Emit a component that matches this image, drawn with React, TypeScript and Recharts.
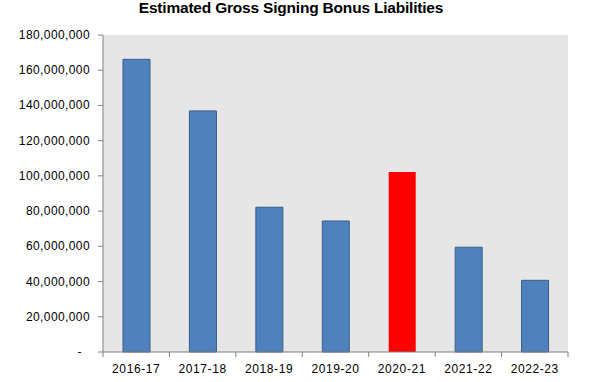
import { BarChart, Bar, XAxis, YAxis, CartesianGrid, Cell } from 'recharts';

const seasons = ['2016-17', '2017-18', '2018-19', '2019-20', '2020-21', '2021-22', '2022-23'];
const liabilities = [166200000, 136900000, 82200000, 74400000, 102200000, 59500000, 40700000];
const highlighted = '2020-21';
const yTicks = [0, 20000000, 40000000, 60000000, 80000000, 100000000, 120000000, 140000000, 160000000, 180000000];

const data = seasons.map((season, i) => ({ season, value: liabilities[i] }));

const AXIS = '#808080';
const FONT = 'Arial, "Liberation Sans", sans-serif';

const YTick = ({ x, y, payload }: any) => {
  const label = payload.value === 0 ? '-' : payload.value.toLocaleString('en-US');
  return (
    <text
      x={payload.value === 0 ? x - 14 : x - 6}
      y={y}
      dy={4}
      textAnchor="end"
      fontSize={12}
      letterSpacing={0.4}
      fontFamily={FONT}
      fill="#000"
    >
      {label}
    </text>
  );
};

const XTick = ({ x, y, index, visibleTicksCount }: any) => {
  const half = 465 / seasons.length / 2;
  return (
    <g>
      <line x1={x - half} x2={x - half} y1={y - 8} y2={y - 3} stroke={AXIS} />
      {index === visibleTicksCount - 1 && (
        <line x1={x + half} x2={x + half} y1={y - 8} y2={y - 3} stroke={AXIS} />
      )}
      <text
        x={x}
        y={y}
        dy={13}
        textAnchor="middle"
        fontSize={12}
        letterSpacing={0.6}
        fontFamily={FONT}
        fill="#000"
      >
        {seasons[index]}
      </text>
    </g>
  );
};

export default function App() {
  return (
    <div style={{ position: 'absolute', left: 0, top: 0, width: 594, height: 382, background: '#fff' }}>
      <div
        style={{
          position: 'absolute',
          left: 0,
          top: -1,
          width: 582,
          textAlign: 'center',
          fontFamily: FONT,
          fontWeight: 'bold',
          fontSize: 15.5,
          letterSpacing: -0.2,
          color: '#000',
        }}
      >
        Estimated Gross Signing Bonus Liabilities
      </div>
      <BarChart
        width={594}
        height={382}
        data={data}
        margin={{ top: 35, right: 26, bottom: 0, left: 0 }}
        barSize={27}
      >
        <CartesianGrid fill="#e6e6e6" stroke="none" horizontal={false} vertical={false} />
        <XAxis
          dataKey="season"
          axisLine={{ stroke: AXIS }}
          tickLine={false}
          height={30}
          interval={0}
          tick={<XTick />}
        />
        <YAxis
          width={103}
          domain={[0, 180000000]}
          ticks={yTicks}
          interval={0}
          axisLine={{ stroke: AXIS }}
          tickLine={{ stroke: AXIS }}
          tickSize={5}
          tick={<YTick />}
        />
        <Bar dataKey="value" isAnimationActive={false} fill="#4f81bd" stroke="#385d8a" strokeWidth={1}>
          {data.map((d) => (
            <Cell
              key={d.season}
              fill={d.season === highlighted ? '#ff0000' : '#4f81bd'}
              stroke={d.season === highlighted ? 'none' : '#385d8a'}
            />
          ))}
        </Bar>
      </BarChart>
    </div>
  );
}
